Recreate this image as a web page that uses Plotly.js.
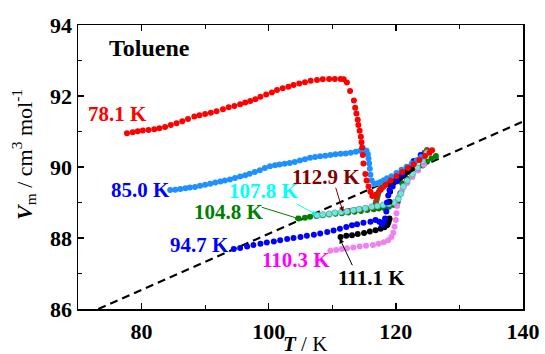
<!DOCTYPE html>
<html>
<head>
<meta charset="utf-8">
<script src="https://cdn.plot.ly/plotly-3.0.1.min.js"></script>
<style>html,body{margin:0;padding:0;background:#fff;}#chart{width:545px;height:354px;}</style>
</head>
<body>
<div id="chart"></div>
<script>
// [T / K, Vm / cm3 mol-1] pairs
const s781 = [[77.7,90.95],[78.6,90.98],[79.4,91.01],[80.2,91.03],[81.1,91.04],[82.0,91.06],[82.8,91.09],[83.7,91.13],[84.6,91.18],[85.5,91.23],[86.4,91.29],[87.3,91.35],[88.3,91.42],[89.1,91.46],[90.0,91.49],[90.9,91.53],[91.8,91.57],[92.8,91.63],[93.7,91.68],[94.6,91.72],[95.5,91.77],[96.3,91.82],[97.1,91.86],[97.9,91.91],[98.7,91.98],[99.6,92.04],[100.5,92.10],[101.3,92.17],[102.2,92.22],[103.1,92.26],[103.9,92.31],[104.8,92.35],[105.7,92.39],[106.6,92.43],[107.6,92.45],[108.5,92.47],[109.5,92.48],[110.4,92.48],[111.3,92.48],[111.8,92.47],[112.3,92.38],[112.8,92.14],[113.4,91.87],[113.6,91.67],[113.8,91.51],[114.0,91.33],[114.1,91.18],[114.3,91.02],[114.5,90.85],[114.6,90.70],[114.7,90.55],[114.8,90.34],[114.9,90.10],[115.2,89.80],[115.4,89.62],[115.7,89.45],[116.0,89.30],[116.3,89.18],[116.8,89.22],[117.6,89.36],[118.4,89.50],[119.2,89.62],[120.1,89.74],[121.0,89.86],[121.9,89.97],[122.8,90.08],[123.7,90.20],[124.6,90.31],[125.3,90.40],[125.7,90.47]];
const s850 = [[84.5,89.35],[85.3,89.36],[86.1,89.38],[86.9,89.40],[87.6,89.42],[88.4,89.44],[89.2,89.47],[90.0,89.50],[90.8,89.53],[91.6,89.56],[92.4,89.59],[93.1,89.62],[93.9,89.65],[94.7,89.69],[95.5,89.73],[96.3,89.77],[97.0,89.81],[97.8,89.86],[98.6,89.91],[99.4,89.97],[100.2,90.02],[101.0,90.05],[101.7,90.07],[102.5,90.09],[103.3,90.11],[104.1,90.14],[104.9,90.18],[105.7,90.22],[106.5,90.26],[107.3,90.28],[108.1,90.30],[108.9,90.32],[109.7,90.34],[110.5,90.36],[111.3,90.37],[112.1,90.38],[112.9,90.40],[113.7,90.43],[114.4,90.46],[115.0,90.48],[115.4,90.46],[115.6,90.36],[115.7,90.24],[115.8,90.10],[115.9,89.95],[116.0,89.78],[116.2,89.62],[116.6,89.52],[117.1,89.54],[117.6,89.58],[118.1,89.63],[118.6,89.68],[119.3,89.74],[120.1,89.83],[120.9,89.92],[121.7,90.01],[122.5,90.10],[123.3,90.19],[124.0,90.28]];
const s947 = [[94.5,87.69],[95.5,87.72],[96.6,87.76],[97.6,87.80],[98.7,87.84],[99.7,87.87],[100.8,87.90],[101.8,87.94],[102.9,87.97],[103.9,88.00],[105.0,88.03],[106.0,88.06],[107.1,88.09],[108.1,88.13],[109.2,88.17],[110.2,88.21],[111.2,88.26],[112.2,88.31],[113.1,88.36],[113.9,88.39],[114.9,88.43],[116.0,88.46],[116.8,88.51],[117.4,88.46],[117.8,88.38],[118.1,88.44],[118.3,88.55],[118.5,88.75],[118.6,89.00],[118.8,89.20],[119.0,89.35],[119.5,89.45],[120.2,89.60],[121.0,89.78],[121.8,89.97],[122.8,90.17],[123.9,90.34]];
const s1048 = [[104.7,88.55],[105.7,88.57],[106.5,88.60],[107.5,88.62],[108.5,88.64],[109.5,88.66],[110.5,88.68],[111.5,88.70],[112.5,88.72],[113.5,88.74],[114.5,88.76],[115.5,88.79],[116.5,88.81],[117.3,88.83],[118.1,88.85],[118.9,88.88],[119.7,88.93],[120.3,89.02],[120.7,89.26],[121.0,89.54],[121.8,89.66],[122.6,89.79],[123.4,89.92],[124.2,90.04],[124.9,90.15],[125.6,90.24],[126.3,90.31]];
const s1078 = [[107.6,88.64],[108.5,88.66],[109.5,88.68],[110.4,88.71],[111.4,88.73],[112.3,88.75],[113.3,88.78],[114.2,88.81],[115.2,88.84],[116.2,88.88],[117.1,88.90],[118.0,88.93],[118.9,88.96],[119.7,89.00],[120.4,89.10],[120.8,89.25],[121.2,89.45],[121.8,89.62],[122.6,89.80],[123.4,89.98],[124.2,90.17],[124.9,90.40]];
const s1103 = [[109.7,87.64],[110.6,87.66],[111.5,87.69],[112.3,87.71],[113.3,87.73],[114.3,87.76],[115.3,87.78],[116.4,87.80],[117.3,87.84],[118.1,87.88],[118.8,87.94],[119.3,88.03],[119.6,88.15],[119.8,88.32],[120.0,88.51],[120.1,88.70],[120.2,88.90],[120.4,89.15],[121.0,89.35],[121.8,89.55],[122.6,89.72],[123.5,89.90],[124.4,90.06]];
const s1111 = [[111.3,88.03],[112.2,88.06],[113.1,88.08],[114.0,88.11],[115.0,88.14],[115.9,88.18],[116.8,88.22],[117.6,88.26],[118.2,88.30],[118.6,88.36],[118.7,88.39],[118.85,88.45],[118.95,88.52],[119.0,88.55],[119.0,89.02],[119.1,89.30],[119.2,89.48],[119.5,89.53],[119.8,89.58],[120.1,89.62],[120.4,89.66],[120.7,89.70],[121.0,89.74],[121.3,89.78],[121.6,89.83],[121.9,89.87],[122.2,89.92],[122.5,89.96]];
const s1129 = [[111.7,88.74],[112.6,88.76],[113.5,88.78],[114.4,88.80],[115.3,88.83],[116.2,88.86],[116.7,88.88],[116.8,88.95],[116.9,89.03],[117.0,89.10],[117.1,89.17],[117.2,89.24],[117.3,89.30],[117.5,89.36],[117.7,89.40],[117.9,89.43],[118.1,89.45],[118.6,89.52],[119.2,89.60],[119.8,89.68],[120.4,89.76],[121.0,89.84],[121.6,89.92],[122.2,90.00],[122.8,90.09],[123.4,90.18],[124.0,90.30],[124.5,90.40],[124.9,90.48]];
// dashed reference line
const refLine = [[73.2,86.0],[140.0,91.28]];

const serif = 'Liberation Serif';
const tickFont = {family:serif, size:22, color:'#000', weight:'bold'};
function mk(pairs, color, outline) {
  return {
    x: pairs.map(p=>p[0]), y: pairs.map(p=>p[1]),
    mode:'markers', type:'scatter', hoverinfo:'skip',
    marker:{size:6, color:color, line:{width: outline?0.6:0, color: outline||color}}
  };
}
const traces = [
  {x: refLine.map(p=>p[0]), y: refLine.map(p=>p[1]), mode:'lines', type:'scatter',
   line:{color:'#000', width:2, dash:'8px,5px'}, hoverinfo:'skip'},
  mk(s1048, '#008000'),
  mk(s1129, '#8b4513'),
  mk(s1103, '#ee82ee'),
  mk(s1078, '#72e6de', '#3f9e9a'),
  mk(s1111, '#000000'),
  mk(s947, '#0000ff'),
  mk(s850, '#1e90ff'),
  mk(s781, '#ff0000')
];

function lab(txt, x, y, color, size) {
  return {text:'<b>'+txt+'</b>', x:x, y:y, xref:'x', yref:'y', showarrow:false,
    font:{family:serif, color:color, size:size||21}, xanchor:'center', yanchor:'middle'};
}
function arr(x, y, ax, ay, color) {
  return {text:'', x:x, y:y, ax:ax, ay:ay, xref:'x', yref:'y', axref:'x', ayref:'y',
    showarrow:true, arrowhead:2, arrowsize:1, arrowwidth:1, arrowcolor:color, standoff:0, startstandoff:0};
}
const annotations = [
  lab('Toluene', 81.2, 93.35, '#000', 24),
  lab('78.1 K', 76.14, 91.49, '#ff0000'),
  lab('85.0 K', 79.9, 89.35, '#0000ff'),
  lab('107.8 K', 99.3, 89.32, '#00ffff'),
  lab('104.8 K', 93.8, 88.73, '#008000'),
  lab('94.7 K', 89.05, 87.80, '#0000ff'),
  lab('112.9 K', 109.06, 89.72, '#800000'),
  lab('110.3 K', 104.33, 87.38, '#ff00ff'),
  lab('111.1 K', 116.14, 86.87, '#000'),
  arr(104.96, 88.53, 98.66, 88.88, '#008000'),
  arr(107.6, 88.65, 104.17, 88.98, '#00ffff'),
  arr(111.68, 88.74, 110.47, 89.46, '#800000'),
  arr(111.15, 87.99, 113.26, 87.19, '#000'),
  // axis titles, placed to match the reference
  {text:'<b><i>V</i></b><sub>m</sub> / cm<sup>3</sup> mol<sup>-1</sup>', xref:'paper', yref:'paper',
   x:-0.122, y:0.545, textangle:-90, showarrow:false, xanchor:'center', yanchor:'middle',
   font:{family:serif, size:22, color:'#000'}},
  {text:'<b><i>T</i></b> / K', xref:'paper', yref:'paper',
   x:0.51, y:-0.122, showarrow:false, xanchor:'center', yanchor:'middle',
   font:{family:serif, size:21, color:'#000'}}
];

const axisCommon = {
  showline:true, linecolor:'#000', linewidth:1.5, mirror:'allticks',
  ticks:'inside', ticklen:6, tickwidth:1.5, tickcolor:'#000',
  showgrid:false, zeroline:false, tickfont:tickFont, automargin:false
};
const layout = {
  width:545, height:354,
  margin:{l:78, r:22, t:25, b:45},
  paper_bgcolor:'#fff', plot_bgcolor:'#fff',
  showlegend:false,
  xaxis: Object.assign({}, axisCommon, {
    range:[70,140], tick0:0, dtick:20, ticklabelstandoff:2,
    minor:{dtick:10, ticks:'inside', ticklen:4, tickwidth:1, tickcolor:'#000'}
  }),
  yaxis: Object.assign({}, axisCommon, {
    range:[86,94], tick0:0, dtick:2,
    minor:{dtick:1, ticks:'inside', ticklen:4, tickwidth:1, tickcolor:'#000'}
  }),
  annotations: annotations
};
Plotly.newPlot('chart', traces, layout, {staticPlot:true, displayModeBar:false});
</script>
</body>
</html>
